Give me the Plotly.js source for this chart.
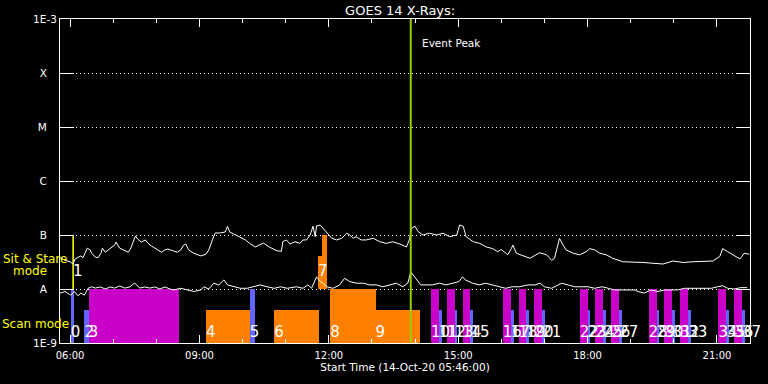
<!DOCTYPE html>
<html><head><meta charset="utf-8">
<script src="https://cdn.plot.ly/plotly-3.0.1.min.js"></script>
<style>html,body{margin:0;padding:0;background:#000;}#chart{width:768px;height:384px;}</style>
</head><body><div id="chart"></div>
<script>
const DAY = '2020-10-14';
const xStart = '05:46', xEnd = '21:46';

// GOES 14 long channel (1-8 A), W/m^2
const longTime = ['05:46','05:53','06:00','06:04','06:07','06:11','06:15','06:18','06:24','06:28',
'06:30','06:35','06:39','06:43','06:45','06:49','06:53','06:57','07:02','07:04',
'07:09','07:14','07:21','07:24','07:28','07:31','07:34','07:39','07:45','07:48',
'07:53','07:58','08:02','08:07','08:12','08:16','08:23','08:29','08:34','08:38',
'08:41','08:45','08:52','09:02','09:09','09:13','09:19','09:22','09:29','09:36',
'09:39','09:42','09:48','09:57','10:04','10:11','10:18','10:23','10:29','10:37',
'10:44','10:48','10:54','10:56','11:01','11:06','11:13','11:20','11:24','11:29',
'11:34','11:38','11:41','11:43','11:48','11:52','11:57','12:04','12:11','12:18',
'12:25','12:29','12:34','12:38','12:45','12:52','13:02','13:11','13:20','13:29',
'13:39','13:48','13:52','13:55','14:00','14:04','14:11','14:20','14:30','14:39',
'14:48','14:58','15:02','15:07','15:11','15:21','15:30','15:39','15:48','15:55',
'16:00','16:09','16:14','16:16','16:21','16:26','16:33','16:40','16:44','16:53',
'17:03','17:10','17:14','17:19','17:21','17:26','17:30','17:40','17:49','17:58',
'18:03','18:10','18:17','18:26','18:35','18:49','19:03','19:17','19:31','19:45',
'19:59','20:13','20:27','20:40','20:54','21:04','21:08','21:15','21:22','21:32',
'21:38','21:45'];
const longFlux = [3.8e-8,3.4e-8,3.2e-8,2.9e-8,3.6e-8,3.9e-8,4.1e-8,3.8e-8,5.7e-8,5.3e-8,
4.6e-8,3.9e-8,3.8e-8,4.6e-8,5.7e-8,4.8e-8,5.3e-8,5.7e-8,6.5e-8,7.4e-8,
5.7e-8,5.3e-8,4.8e-8,5.5e-8,7.4e-8,9.6e-8,8.4e-8,7.4e-8,8.1e-8,7.1e-8,
6.3e-8,5.7e-8,5.3e-8,4.8e-8,5.3e-8,5.5e-8,5.1e-8,4.8e-8,5.3e-8,6.5e-8,
6.8e-8,5.3e-8,4.6e-8,4.1e-8,4.4e-8,5.3e-8,8.8e-8,1.09e-7,1.09e-7,1.14e-7,
1.45e-7,1.14e-7,1.04e-7,9.2e-8,8.1e-8,6.8e-8,6.0e-8,6.5e-8,7.1e-8,6.0e-8,
5.3e-8,5.1e-8,5.0e-8,7.5e-8,8.1e-8,6.8e-8,7.5e-8,7.0e-8,8.1e-8,8.1e-8,
1.0e-7,1.45e-7,9.3e-8,1.47e-7,1.53e-7,1.33e-7,1.08e-7,8.7e-8,8.1e-8,8.7e-8,
1.08e-7,1.0e-7,8.7e-8,9.3e-8,8.1e-8,8.1e-8,8.7e-8,7.5e-8,7.0e-8,7.5e-8,
6.8e-8,6.0e-8,8.1e-8,1.33e-7,1.45e-7,1.16e-7,1.0e-7,1.08e-7,1.0e-7,1.08e-7,
9.3e-8,1.0e-7,1.53e-7,1.45e-7,9.3e-8,7.5e-8,7.0e-8,6.0e-8,5.6e-8,4.9e-8,
5.4e-8,4.3e-8,5.6e-8,6.5e-8,4.6e-8,4.3e-8,4.0e-8,3.7e-8,4.0e-8,4.7e-8,
4.3e-8,3.4e-8,3.7e-8,7.0e-8,8.7e-8,6.5e-8,5.3e-8,4.6e-8,4.3e-8,4.9e-8,
5.6e-8,5.3e-8,4.6e-8,4.3e-8,3.7e-8,3.2e-8,3.2e-8,3.1e-8,3.0e-8,2.9e-8,
3.3e-8,3.1e-8,3.2e-8,3.2e-8,3.3e-8,4.0e-8,5.6e-8,4.9e-8,4.3e-8,3.6e-8,
4.6e-8,4.4e-8];

// GOES 14 short channel (0.5-4 A), W/m^2
const shortTime = ['05:46','05:53','06:01','06:06','06:11','06:15','06:20','06:25','06:30','06:35',
'06:42','06:49','06:56','07:02','07:09','07:16','07:23','07:30','07:37','07:44',
'07:51','07:58','08:05','08:12','08:19','08:24','08:34','08:43','08:52','09:02',
'09:06','09:13','09:20','09:27','09:34','09:39','09:48','09:57','10:06','10:16',
'10:25','10:34','10:44','10:53','11:02','11:15','11:24','11:31','11:36','11:43',
'11:48','11:52','11:57','12:06','12:15','12:22','12:29','12:39','12:48','12:57',
'13:06','13:15','13:25','13:34','13:43','13:50','13:54','13:58','14:08','14:24',
'14:34','14:43','14:52','15:01','15:06','15:10','15:20','15:29','15:38','15:48',
'15:57','16:06','16:15','16:25','16:37','16:47','16:54','17:00','17:10','17:19',
'17:24','17:33','17:42','17:52','18:01','18:10','18:20','18:29','18:38','18:47',
'18:57','19:06','19:10','19:19','19:28','19:38','19:47','19:56','20:05','20:15',
'20:24','20:33','20:42','20:52','21:01','21:08','21:15','21:24','21:33','21:42'];
const shortFlux = [8.4e-9,9.0e-9,7.7e-9,9.0e-9,7.5e-9,8.4e-9,7.7e-9,1.03e-8,1.1e-8,1.04e-8,
1.09e-8,1.0e-8,1.09e-8,1.04e-8,1.14e-8,1.04e-8,1.09e-8,1.29e-8,1.04e-8,1.09e-8,
1.04e-8,1.09e-8,1.0e-8,1.09e-8,1.0e-8,9.6e-9,1.03e-8,9.6e-9,9.0e-9,9.6e-9,
1.1e-8,1.0e-8,1.28e-8,1.19e-8,1.47e-8,1.19e-8,1.1e-8,1.03e-8,1.03e-8,1.1e-8,
1.19e-8,1.1e-8,1.03e-8,1.1e-8,1.03e-8,1.1e-8,1.03e-8,1.19e-8,1.03e-8,1.68e-8,
1.37e-8,1.28e-8,1.1e-8,1.03e-8,1.19e-8,1.58e-8,1.37e-8,1.28e-8,1.28e-8,1.19e-8,
1.19e-8,1.1e-8,1.19e-8,1.28e-8,1.1e-8,1.29e-8,2.07e-8,1.74e-8,1.19e-8,1.19e-8,
1.28e-8,1.19e-8,1.28e-8,1.37e-8,1.68e-8,1.47e-8,1.28e-8,1.19e-8,1.28e-8,1.19e-8,
1.1e-8,1.03e-8,1.1e-8,1.1e-8,1.19e-8,1.19e-8,1.28e-8,1.1e-8,1.03e-8,1.19e-8,
1.28e-8,1.19e-8,1.1e-8,1.1e-8,1.1e-8,1.03e-8,1.1e-8,1.03e-8,9.6e-9,9.6e-9,
9.6e-9,9.6e-9,9.0e-9,8.4e-9,9.6e-9,9.0e-9,9.6e-9,9.6e-9,9.6e-9,1.03e-8,
1.03e-8,1.03e-8,1.03e-8,1.03e-8,1.1e-8,1.15e-8,1.03e-8,1.0e-8,1.06e-8,1.06e-8];

// IRIS observations
const obsLabel = ['0','1','2','3','4','5','6','7','','8','9','10','11','12','13','14','15','16','17','18','19',
'20','21','22','23','24','25','26','27','28','29','30','31','32','33','34','35','36','37'];
const obsKind  = ['A','S','A','B','C','A','C','C','C','C','C','B','A','B','A','B','A','B','A','B','A',
'B','A','B','A','B','A','B','A','B','A','B','A','B','A','B','A','B','A'];
const obsStart = ['06:01','06:04','06:20','06:26','09:09','10:10','10:44','11:45','11:50','12:02','13:05',
'14:22','14:33','14:44','14:55','15:06','15:17','16:02','16:13','16:24','16:35','16:46','16:57',
'17:49','18:00','18:11','18:22','18:33','18:44','19:25','19:36','19:47','19:58','20:09','20:20',
'21:02','21:13','21:24','21:35'];
const obsEnd   = ['06:05','06:04:30','06:26','08:31','10:10','10:17','11:46','11:57','11:57','13:05','14:07',
'14:33','14:37','14:55','14:59','15:17','15:21','16:13','16:17','16:35','16:39','16:57','17:01',
'18:00','18:04','18:22','18:26','18:44','18:48','19:36','19:40','19:58','20:02','20:20','20:24',
'21:13','21:17','21:35','21:39'];
const obsBase  = [1e-9,1e-8,1e-9,1e-9,1e-9,1e-9,1e-9,1e-8,1e-8,1e-9,1e-9,
1e-9,1e-9,1e-9,1e-9,1e-9,1e-9,1e-9,1e-9,1e-9,1e-9,1e-9,1e-9,
1e-9,1e-9,1e-9,1e-9,1e-9,1e-9,1e-9,1e-9,1e-9,1e-9,1e-9,1e-9,1e-9,1e-9,1e-9,1e-9];
const obsTop   = [1e-8,1e-7,4.1e-9,1e-8,4.1e-9,1e-8,4.1e-9,4.1e-8,1e-7,1e-8,4.1e-9,
1e-8,4.1e-9,1e-8,4.1e-9,1e-8,4.1e-9,1e-8,4.1e-9,1e-8,4.1e-9,1e-8,4.1e-9,
1e-8,4.1e-9,1e-8,4.1e-9,1e-8,4.1e-9,1e-8,4.1e-9,1e-8,4.1e-9,1e-8,4.1e-9,1e-8,4.1e-9,1e-8,4.1e-9];

const eventPeak = '13:54';
const yTickVals = [1e-9,1e-8,1e-7,1e-6,1e-5,1e-4,1e-3];
const yTickText = ['1E-9','A','B','C','M','X','1E-3'];

// ---- styling / build ----
const kindStyle = {
  A: {fill:'#6464ff', line:'#6464ff'},
  B: {fill:'#c800c8', line:'#c800c8'},
  C: {fill:'#ff8000', line:'#ff8000'},
  S: {fill:'rgba(0,0,0,0)', line:'#ffff00'}
};
const scanLabelLevel = 1.5e-9, stareLabelLevel = 2.07e-8;
function ms(t){ const s = t.length===5 ? t+':00' : t; return Date.parse(DAY+'T'+s+'Z'); }
function d(t){ return DAY+' '+t; }

const traces = [];
['A','B','C','S'].forEach(k=>{
  const idx = obsKind.map((v,i)=>v===k?i:-1).filter(i=>i>=0);
  traces.push({
    type:'bar',
    x: idx.map(i=>(ms(obsStart[i])+ms(obsEnd[i]))/2),
    width: idx.map(i=>ms(obsEnd[i])-ms(obsStart[i])),
    base: idx.map(i=>obsBase[i]),
    y: idx.map(i=>obsTop[i]-obsBase[i]),
    marker:{color:kindStyle[k].fill, line:{color:kindStyle[k].line, width:k==='S'?1:0}},
    hoverinfo:'skip', showlegend:false
  });
});
traces.push({type:'scatter', mode:'lines', x:longTime.map(d), y:longFlux,
  line:{color:'#ffffff', width:1}, hoverinfo:'skip', showlegend:false});
traces.push({type:'scatter', mode:'lines', x:shortTime.map(d), y:shortFlux,
  line:{color:'#ffffff', width:1}, hoverinfo:'skip', showlegend:false});
traces.push({type:'scatter', mode:'lines', x:[d(eventPeak), d(eventPeak)], y:[yTickVals[0], yTickVals[6]],
  line:{color:'#9acd00', width:2}, hoverinfo:'skip', showlegend:false});
const lab = obsLabel.map((l,i)=>i).filter(i=>obsLabel[i]!=='');
traces.push({type:'scatter', mode:'text', x:lab.map(i=>ms(obsStart[i])),
  y:lab.map(i=>obsBase[i]>1e-9?stareLabelLevel:scanLabelLevel),
  text:lab.map(i=>obsLabel[i]), textposition:'middle right',
  textfont:{family:'DejaVu Sans', size:15, color:'#ffffff'}, cliponaxis:false,
  hoverinfo:'skip', showlegend:false});

const nb='\u00a0';
const layout = {
  width:768, height:384,
  paper_bgcolor:'#000', plot_bgcolor:'#000',
  margin:{l:60, r:18, t:19, b:41},
  barmode:'overlay', bargap:0,
  font:{family:'DejaVu Sans', color:'#ffffff', size:10},
  title:{text:'GOES 14 X-Rays:', font:{size:13, color:'#ffffff'}, x:0.493, xref:'paper', y:1-10/384, yref:'container', yanchor:'middle'},
  xaxis:{type:'date', range:[d(xStart), d(xEnd)], tick0:DAY+' 00:00', dtick:3*3600000, tickformat:'%H:%M',
    ticks:'inside', ticklen:8, tickcolor:'#fff', tickwidth:1, ticklabelstandoff:3,
    minor:{dtick:3600000, ticks:'inside', ticklen:4, tickcolor:'#fff', showgrid:false},
    showline:true, linecolor:'#fff', linewidth:1, mirror:'ticks', showgrid:false, zeroline:false,
    tickfont:{size:10, color:'#fff'},
    title:{text:'Start Time (14-Oct-20 05:46:00)', font:{size:10.5, color:'#fff'}, standoff:3}},
  yaxis:{type:'log', range:[-9,-3], tickvals:yTickVals,
    ticktext:yTickText.map(t=>t.length===1? t+nb+nb+nb : t),
    ticks:'inside', ticklen:14, tickcolor:'#fff', tickwidth:1,
    showline:true, linecolor:'#fff', linewidth:1, mirror:'ticks',
    showgrid:true, gridcolor:'#fff', gridwidth:1, griddash:'1px,3px', zeroline:false,
    tickfont:{size:10.5, color:'#fff'}},
  annotations:[
    {text:'Event Peak', x:d(eventPeak), xref:'x', y:0.927, yref:'paper', xanchor:'left', yanchor:'middle', xshift:9, showarrow:false, font:{size:10.5, color:'#fff'}},
    {text:'Sit & Stare', x:1, xref:'paper', xanchor:'left', y:0.259, yref:'paper', yanchor:'middle', showarrow:false, font:{size:12, color:'#ffff00'}},
    {text:'mode', x:11, xref:'paper', xanchor:'left', y:0.222, yref:'paper', yanchor:'middle', showarrow:false, font:{size:12, color:'#ffff00'}},
    {text:'Scan mode', x:0, xref:'paper', xanchor:'left', y:0.059, yref:'paper', yanchor:'middle', showarrow:false, font:{size:12, color:'#ffff00'}}
  ]
};
// convert left pixel offsets of the mode annotations into paper coordinates
layout.annotations.slice(1).forEach(a=>{ a.x = (a.x-60)/690; });
Plotly.newPlot('chart', traces, layout, {staticPlot:true, displayModeBar:false});
</script></body></html>
